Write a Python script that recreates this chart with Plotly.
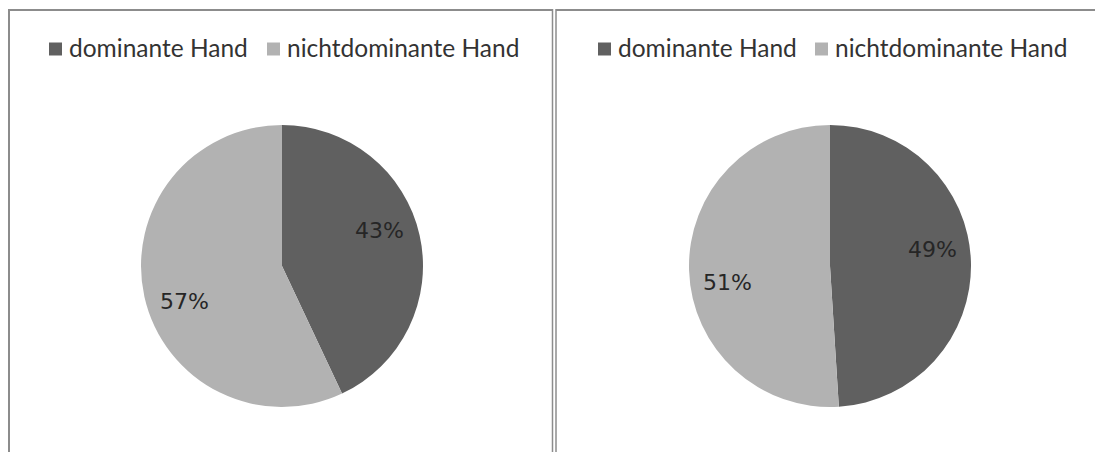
import math
import plotly.graph_objects as go

categories = ["dominante Hand", "nichtdominante Hand"]
left_values = [43, 57]
right_values = [49, 51]
slice_colors = ["#606060", "#b2b2b2"]

W, H = 1095, 452
PIE_R = 141
PIE_CY = 266
LABEL_R = 0.74        # label distance from centre, as fraction of radius
LABEL_SHIFT = -7.5    # degrees; labels sit slightly toward the horizontal

def px_x(x):
    return x / W

def px_y(y):
    return 1 - y / H

def pie_domain(cx, cy, r):
    return dict(x=[px_x(cx - r), px_x(cx + r)], y=[px_y(cy + r), px_y(cy - r)])

fig = go.Figure()
annotations = []
shapes = []

panels = [
    (left_values, 282, 49, [69, 287]),
    (right_values, 830, 598, [618, 835]),
]

for vals, cx, legend_x0, text_x in panels:
    fig.add_trace(go.Pie(
        labels=categories,
        values=vals,
        sort=False,
        direction="clockwise",
        rotation=0,
        marker=dict(colors=slice_colors, line=dict(width=0)),
        textinfo="none",
        domain=pie_domain(cx, PIE_CY, PIE_R),
        showlegend=False,
        hoverinfo="label+percent",
    ))

    # percentage labels placed along each slice's mid-angle
    total = sum(vals)
    start = 0.0
    for v in vals:
        frac = v / total
        mid = (start + frac / 2) * 360 + LABEL_SHIFT
        start += frac
        ang = math.radians(mid)
        lx = cx + LABEL_R * PIE_R * math.sin(ang)
        ly = PIE_CY - LABEL_R * PIE_R * math.cos(ang)
        annotations.append(dict(
            x=px_x(lx), y=px_y(ly), xref="paper", yref="paper",
            text=f"{round(frac * 100)}%", showarrow=False,
            xanchor="center", yanchor="middle",
            font=dict(family="DejaVu Sans", size=22, color="#262626"),
        ))

    # legend row: square swatch followed by the category name
    for i, (name, color) in enumerate(zip(categories, slice_colors)):
        sx = legend_x0 if i == 0 else text_x[1] - 20
        shapes.append(dict(
            type="rect", xref="paper", yref="paper",
            x0=px_x(sx), x1=px_x(sx + 13), y0=px_y(55.5), y1=px_y(42.5),
            fillcolor=color, line=dict(width=0),
        ))
        annotations.append(dict(
            x=px_x(text_x[i] - 2), y=px_y(48), xref="paper", yref="paper",
            text=name, showarrow=False, xanchor="left", yanchor="middle",
            font=dict(family="Lato", size=24.5, color="#333333"),
        ))

border = "#8c8c8c"
shapes += [
    # frame of the left panel
    dict(type="line", xref="paper", yref="paper", x0=px_x(9), x1=px_x(552), y0=px_y(10), y1=px_y(10),
         line=dict(color=border, width=2)),
    dict(type="line", xref="paper", yref="paper", x0=px_x(9), x1=px_x(9), y0=px_y(9), y1=px_y(452),
         line=dict(color=border, width=2)),
    # double divider between the panels
    dict(type="line", xref="paper", yref="paper", x0=px_x(552.5), x1=px_x(552.5), y0=px_y(9), y1=px_y(452),
         line=dict(color=border, width=1.5)),
    dict(type="line", xref="paper", yref="paper", x0=px_x(556), x1=px_x(556), y0=px_y(9), y1=px_y(452),
         line=dict(color=border, width=1.5)),
    # top frame of the right panel
    dict(type="line", xref="paper", yref="paper", x0=px_x(556), x1=1, y0=px_y(10), y1=px_y(10),
         line=dict(color=border, width=2)),
]

fig.update_layout(
    width=W,
    height=H,
    margin=dict(l=0, r=0, t=0, b=0),
    paper_bgcolor="white",
    plot_bgcolor="white",
    showlegend=False,
    shapes=shapes,
    annotations=annotations,
)

fig.write_html("out.html")
